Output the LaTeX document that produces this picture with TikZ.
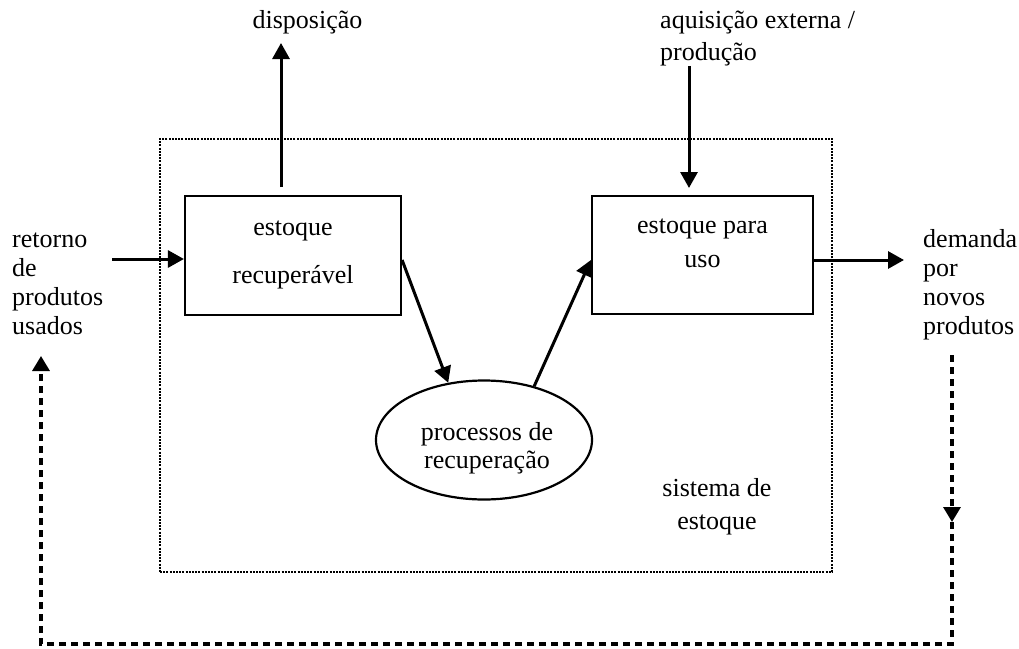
\documentclass[tikz,border=0pt]{standalone}
\usepackage{fontspec}
\setmainfont{Liberation Serif}
\usetikzlibrary{arrows.meta,shapes.geometric}
\begin{document}
\begin{tikzpicture}[x=1pt,y=-1pt,
  txt/.style={inner sep=0pt, font=\fontsize{26}{29}\selectfont},
  boxs/.style={draw, line width=2.2pt, inner sep=0pt},
  arr/.style={line width=3pt, -{Triangle[length=16pt,width=17pt]}},
  dl/.style={line width=3.3pt, dash pattern=on 7pt off 5pt},
  dtip/.style={-{Triangle[length=15pt,width=17pt]}},
  sysbox/.style={draw, line width=2.4pt, dash pattern=on 2pt off 1.2pt, inner sep=0pt}]
\useasboundingbox (0,0) rectangle (1019,648);

% system boundary
\node[sysbox, minimum width=672pt, minimum height=433pt] (sys) at (496,355.5) {};

% boxes
\node[boxs, minimum width=216pt, minimum height=119pt] (box1) at (293,255.5) {};
\node[boxs, minimum width=221pt, minimum height=118pt] (box2) at (702.5,255) {};
\node[boxs, ellipse, minimum width=216pt, minimum height=119pt] (proc) at (484,440) {};

% texts
\node[txt, align=center, anchor=north] (box1lbl) at (293,214.7) {\strut estoque\\[19pt]recuperável};
\node[txt, align=center, anchor=north] (box2lbl) at (702.5,212.7) {\strut estoque para\\[5pt]uso};
\node[txt, align=center, anchor=north] (proclbl) at (487,419.7) {\strut processos de\\[-1pt]recuperação};
\node[txt, align=center, anchor=north] (syslbl) at (717,475.7) {\strut sistema de\\[4pt]estoque};
\node[txt, anchor=north] (disp) at (307.5,7.7) {\strut disposição};
\node[txt, align=left, anchor=north west] (aq) at (660,7.7) {\strut aquisição externa /\\[3pt]produção};
\node[txt, align=left, anchor=north west] (ret) at (12,226.7) {\strut retorno\\de\\produtos\\usados};
\node[txt, align=left, anchor=north west] (dem) at (923,226.7) {\strut demanda\\por\\novos\\produtos};

% coordinates for free ends
\coordinate (dispstart) at (281,187);
\coordinate (disptip) at (281,43);
\coordinate (aqtip) at (689,188);
\coordinate (retstart) at (112,259);
\coordinate (demtip) at (904,260);
\coordinate (dtop) at (952,355);
\coordinate (dmid) at (952,522);
\coordinate (dbr) at (952,644);
\coordinate (dbl) at (41,644);
\coordinate (rettip) at (41,356);

% arrows
\draw[arr] (dispstart) -- (disptip);
\draw[arr] (aq.south -| aqtip) -- (aqtip);
\draw[arr] (retstart) -- (box1.west |- retstart);
\draw[arr] (box2.east |- demtip) -- (demtip);
\draw[arr] ([yshift=-4.5pt]box1.east) -- (proc.122);
\draw[arr] (proc.47) -- ([yshift=-5pt]box2.west);

% dashed feedback loop
\draw[dl, dtip] (dtop) -- (dmid);
\draw[dl, dtip] (dmid) -- (dbr) -- (dbl) -- (rettip);
\end{tikzpicture}
\end{document}
